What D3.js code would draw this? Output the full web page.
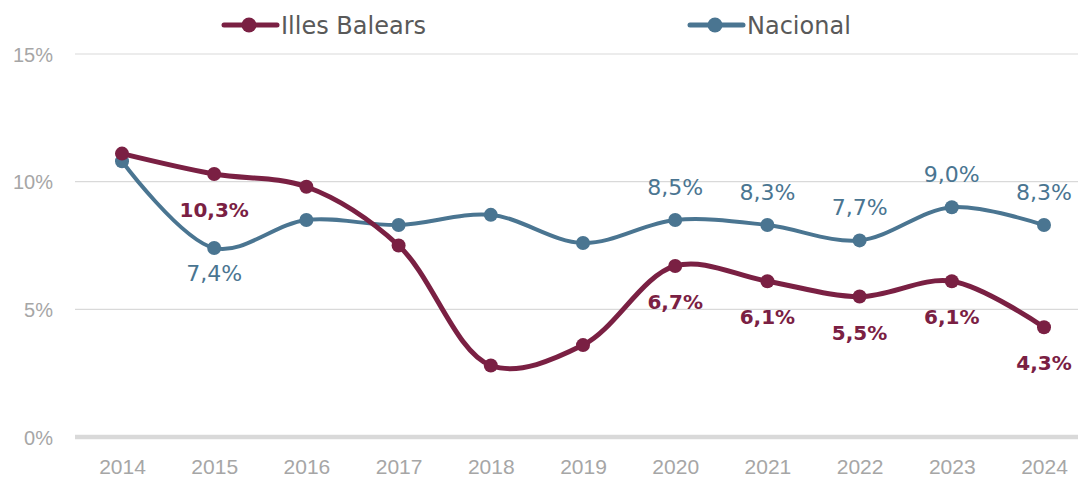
<!DOCTYPE html>
<html><head><meta charset="utf-8">
<script src="https://cdn.jsdelivr.net/npm/d3@7"></script>
<style>body{margin:0;background:#fff}svg{display:block;font-family:"DejaVu Sans","Open Sans",sans-serif}</style>
</head><body><svg id="c" width="1080" height="477"></svg>
<script>
const years = ["2014","2015","2016","2017","2018","2019","2020","2021","2022","2023","2024"];
const balears = [11.1,10.3,9.8,7.5,2.8,3.6,6.7,6.1,5.5,6.1,4.3];
const nacional = [10.8,7.4,8.5,8.3,8.7,7.6,8.5,8.3,7.7,9.0,8.3];
const yTicks = [0,5,10,15];
const balearsLabelYears = ["2015","2020","2021","2022","2023","2024"];
const nacionalLabelYears = ["2015","2020","2021","2022","2023","2024"];
const nacionalLabelBelow = ["2015"];

const colB = "#7a2043", colN = "#4a7591";
const svg = d3.select("#c");
const x = d3.scalePoint().domain(years).range([122,1044]);
const y = d3.scaleLinear().domain([0,15]).range([437,54]);

// grid
svg.append("g").selectAll("line").data(yTicks.filter(d=>d>0)).join("line")
  .attr("x1",75).attr("x2",1078).attr("y1",d=>y(d)).attr("y2",d=>y(d))
  .attr("stroke","#d9d9d9").attr("stroke-width",1.2);
svg.append("line").attr("x1",75).attr("x2",1078).attr("y1",y(0)).attr("y2",y(0))
  .attr("stroke","#d9d9d9").attr("stroke-width",4.5);

// y axis labels
const yAxis = d3.axisLeft(y).tickValues(yTicks).tickFormat(d=>d+"%").tickSize(0).tickPadding(0);
const ya = svg.append("g").attr("transform","translate(53,0)").call(yAxis);
ya.select(".domain").remove();
ya.attr("font-family","'Liberation Sans',Arial,sans-serif");
ya.selectAll("text").attr("fill","#a6a6a6").attr("font-size",20).attr("dy","0.36em");

// x axis labels
const xAxis = d3.axisBottom(x).tickSize(0).tickPadding(0);
const xa = svg.append("g").attr("transform","translate(0,474)").call(xAxis);
xa.select(".domain").remove();
xa.attr("font-family","'Liberation Sans',Arial,sans-serif");
xa.selectAll("text").attr("fill","#a6a6a6").attr("font-size",21).attr("dy","0");

const line = d3.line().x((d,i)=>x(years[i])).y(d=>y(d)).curve(d3.curveCatmullRom.alpha(0.5));

function series(vals,col,w){
  svg.append("path").attr("d",line(vals)).attr("fill","none").attr("stroke",col).attr("stroke-width",w);
  svg.append("g").selectAll("circle").data(vals).join("circle")
    .attr("cx",(d,i)=>x(years[i])).attr("cy",d=>y(d)).attr("r",7).attr("fill",col);
}
series(nacional,colN,4);
series(balears,colB,5);

const fmt = v => v.toFixed(1).replace(".",",")+"%";
// labels
svg.append("g").selectAll("text").data(years.map((yr,i)=>({yr,v:nacional[i]})).filter(d=>nacionalLabelYears.includes(d.yr))).join("text")
  .attr("x",d=>x(d.yr)).attr("y",d=>y(d.v)+(nacionalLabelBelow.includes(d.yr)?25:-33)).attr("dy","0.35em")
  .attr("text-anchor","middle").attr("font-size",22).attr("fill",colN).text(d=>fmt(d.v));
svg.append("g").selectAll("text").data(years.map((yr,i)=>({yr,v:balears[i]})).filter(d=>balearsLabelYears.includes(d.yr))).join("text")
  .attr("x",d=>x(d.yr)).attr("y",d=>y(d.v)+36).attr("dy","0.35em")
  .attr("text-anchor","middle").attr("font-size",20).attr("font-weight",700).attr("fill",colB).text(d=>fmt(d.v));

// legend
const legend = [{name:"Illes Balears",col:colB,x:223},{name:"Nacional",col:colN,x:689}];
const lg = svg.append("g").selectAll("g").data(legend).join("g").attr("transform",d=>`translate(${d.x},25)`);
lg.append("line").attr("x1",1).attr("x2",54).attr("stroke",d=>d.col).attr("stroke-width",5).attr("stroke-linecap","round");
lg.append("circle").attr("cx",26).attr("r",7.5).attr("fill",d=>d.col);
lg.append("text").attr("x",58).attr("dy","0.36em").attr("font-size",24).attr("fill","#595959").text(d=>d.name);
</script></body></html>
